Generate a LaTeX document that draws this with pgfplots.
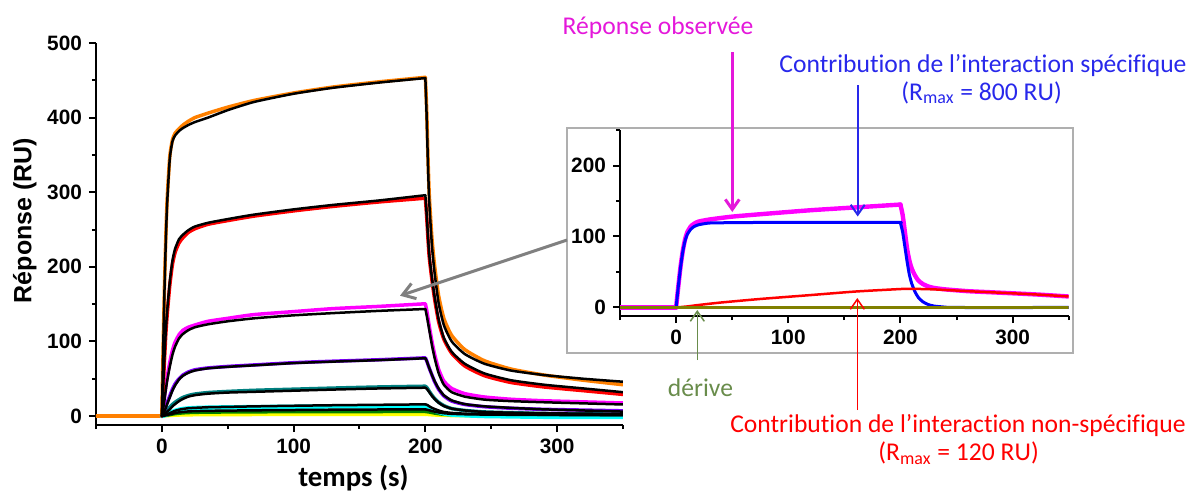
\documentclass[border=0pt]{standalone}
\usepackage{pgfplots}
\pgfplotsset{compat=1.18}
\usepackage{fontspec}
\setmainfont{Carlito}[Ligatures={TeX,NoCommon}]
\newfontfamily\arialfont{Liberation Sans}
\usetikzlibrary{arrows.meta}
\definecolor{cOrange}{RGB}{255,128,0}
\definecolor{cRed}{RGB}{255,0,0}
\definecolor{cMag}{RGB}{255,0,255}
\definecolor{cPurp}{RGB}{128,0,255}
\definecolor{cTeal}{RGB}{0,128,128}
\definecolor{cCyan}{RGB}{0,255,255}
\definecolor{cGreen}{RGB}{0,128,0}
\definecolor{cYel}{RGB}{255,255,0}
\definecolor{cBlue}{RGB}{0,0,255}
\definecolor{cOlive}{RGB}{128,128,0}
\definecolor{tMag}{RGB}{228,24,218}
\definecolor{tBlue}{RGB}{40,40,235}
\definecolor{tRed}{RGB}{255,0,0}
\definecolor{tGreen}{RGB}{105,140,75}
\definecolor{frameGray}{RGB}{175,175,175}
\definecolor{arrGray}{RGB}{128,128,128}
\pgfplotsset{myaxis/.style={
  scale only axis, axis lines=left,
  axis line style={-, line width=1pt, black},
  tick align=outside, major tick length=3.5pt, minor tick length=2pt,
  tick style={black, line width=1pt},
  tick label style={font=\arialfont\bfseries\fontsize{10.4}{12}\selectfont},
  /pgf/number format/assume math mode=true,
  every axis plot/.append style={line join=round, line cap=round},
},
dat/.style={line width=1.75pt, smooth, tension=0.35},
fit/.style={black, line width=1.25pt, smooth, tension=0.35}}
\begin{document}
\begin{tikzpicture}
\path[use as bounding box] (0,0) rectangle (596.5pt,247.5pt);

% ---------------- main axis ----------------
\begin{axis}[myaxis, at={(48pt,35pt)}, anchor=south west,
  width=263.5pt, height=191pt,
  xmin=-50, xmax=350, ymin=-12, ymax=500,
  xtick={0,100,200,300}, minor xtick={-50,50,150,250,350},
  ytick={0,100,200,300,400,500}, minor ytick={50,150,250,350,450}]
% baselines (data)
\addplot[cOrange, line width=1.75pt] coordinates {(-50,0)(0,0)};
% yellow data
\addplot[cYel, dat, line width=1.6pt] coordinates {(0,0)(5,0.5)(10,1)(20,1.5)(50,1.8)(100,2)(200,2.2)};
\addplot[cYel, dat, line width=1.6pt] coordinates {(200,2.2)(205,1.5)(210,1)(220,0.5)(245,0.2)(290,0)(350,0)};
% green data
\addplot[cGreen, dat, line width=1.6pt] coordinates {(0,0)(2,0.5)(4,1)(6,1.7)(8,2.4)(10,3)(13,3.6)(16,4.1)(20,4.5)(25,4.8)(35,5.1)(50,5.3)(70,5.5)(100,5.7)(130,5.8)(165,5.9)(200,6)};
\addplot[cGreen, dat, line width=1.6pt] coordinates {(200,6)(203,5.2)(205,4.5)(207,3.8)(210,3)(214,2.2)(220,1.5)(230,1)(245,0.5)(265,0.3)(290,0.2)(320,0)(350,0)};
% cyan data
\addplot[cCyan, dat, line width=2.2pt] coordinates {(0,0)(2,1)(4,2.5)(6,4)(8,5.5)(10,7)(13,8.5)(16,9.5)(20,10.3)(25,10.8)(35,11.3)(50,11.7)(70,12)(100,12.5)(130,12.8)(165,13)(200,13.2)};
\addplot[cCyan, dat, line width=2.2pt] coordinates {(200,13.2)(203,11)(205,9)(207,7.5)(210,5.5)(214,3.5)(220,2)(230,1)(245,0)(265,-0.5)(290,-1)(320,-1)(350,-1)};
% teal data
\addplot[cTeal, dat] coordinates {(0,0)(1,2)(2,4)(3,6)(4,8)(6,12)(8,15.5)(10,18.5)(13,22)(16,25)(20,27.5)(25,29.5)(35,31.5)(50,33)(70,34.5)(100,36)(130,37.5)(165,39)(200,40)};
\addplot[cTeal, dat] coordinates {(200,40)(201,38.5)(202,36)(203,33)(205,28)(207,23.5)(210,18.5)(214,14)(220,10)(230,7.5)(245,5.5)(265,4.5)(290,3.5)(320,3)(350,2.5)};
% purple data
\addplot[cPurp, dat] coordinates {(0,0)(1,4)(2,8)(3,13)(4,18)(6,27)(8,36)(10,43)(13,50)(16,55)(20,59)(25,62)(35,64.5)(50,66.5)(70,68.5)(100,71.5)(130,73.5)(165,75.5)(200,78)};
\addplot[cPurp, dat] coordinates {(200,78)(201,74)(202,69)(203,64)(205,55)(207,46)(210,36)(214,27)(220,20)(230,15.5)(245,12.5)(265,10.5)(290,9)(320,8)(350,7)};
% magenta data
\addplot[cMag, dat] coordinates {(0,0)(1,12)(2,26)(3,40)(4,52)(6,72)(8,88)(10,99)(13,109)(16,115)(20,119)(25,122)(35,127)(50,131)(70,136)(100,140)(130,144)(165,147)(200,150.5)};
\addplot[cMag, dat] coordinates {(200,150.5)(201,142)(202,131)(203,120)(205,100)(207,83)(210,63)(214,47)(220,37)(230,30)(245,25.5)(265,22.5)(290,20.5)(320,19)(350,17.5)};
% red data
\addplot[cRed, dat] coordinates {(0,0)(1,38)(2,76)(3,110)(4,135)(6,175)(8,203)(10,219)(13,232)(16,239)(20,246)(25,251)(35,257)(50,262)(70,268)(100,275)(130,281)(165,287)(200,292)};
\addplot[cRed, dat] coordinates {(200,292)(201,267)(202,237)(203,212)(205,182)(207,157)(210,127)(214,103)(220,84)(230,67)(245,54)(265,45)(290,39)(320,34)(350,29)};
% orange data
\addplot[cOrange, dat] coordinates {(0,0)(1,95)(2,175)(3,240)(4,290)(6,348)(8,370)(10,379)(13,385)(16,390)(20,395)(25,400)(35,406)(50,414)(70,423)(100,433)(130,441)(165,448)(200,454)};
\addplot[cOrange, dat] coordinates {(200,454)(201,410)(202,345)(203,295)(205,238)(207,202)(210,162)(214,131)(220,108)(230,89)(245,74)(265,63)(290,55)(320,48)(350,42)};
% black fits
\addplot[fit] coordinates {(0,0)(2,0.5)(4,1.3)(6,2.2)(8,3)(10,4)(13,5)(16,5.6)(20,6.2)(25,6.6)(35,7)(50,7.3)(70,7.7)(100,8.1)(130,8.5)(165,8.8)(200,9)};
\addplot[fit] coordinates {(200,9)(203,7.8)(205,6.8)(207,5.9)(210,4.8)(214,3.8)(220,3)(230,2.4)(245,2)(265,1.7)(290,1.5)(320,1.3)(350,1.2)};
\addplot[fit] coordinates {(0,0)(1,0.5)(2,1)(3,1.7)(4,2.5)(6,4)(8,5.5)(10,7)(13,8.5)(16,9.5)(20,10.5)(25,11)(35,11.8)(50,12.3)(70,13)(100,13.8)(130,14.5)(165,15.1)(200,15.7)};
\addplot[fit] coordinates {(200,15.7)(201,15.2)(202,14.3)(203,13)(205,11)(207,9.5)(210,7.5)(214,5.5)(220,4.2)(230,3.2)(245,2.5)(265,2)(290,1.7)(320,1.5)(350,1.3)};
\addplot[fit] coordinates {(0,0)(1,1.5)(2,3)(3,4.5)(4,6)(6,9)(8,13)(10,16)(13,20)(16,23)(20,26)(25,28)(35,30)(50,31.5)(70,32.5)(100,34)(130,35.5)(165,37)(200,38)};
\addplot[fit] coordinates {(200,38)(201,36.5)(202,34.5)(203,32)(205,27)(207,23)(210,18)(214,13.5)(220,10)(230,7.5)(245,5.5)(265,4.5)(290,3.8)(320,3.2)(350,2.8)};
\addplot[fit] coordinates {(0,0)(1,3)(2,7)(3,11)(4,16)(6,25)(8,34)(10,41)(13,49)(16,54)(20,58)(25,61)(35,64)(50,66)(70,68)(100,71)(130,73)(165,75)(200,77.5)};
\addplot[fit] coordinates {(200,77.5)(201,74)(202,69)(203,64)(205,55)(207,47)(210,37)(214,28)(220,21)(230,16)(245,13)(265,11)(290,9)(320,7.5)(350,6)};
\addplot[fit] coordinates {(0,0)(1,10)(2,22)(3,35)(4,47)(6,66)(8,82)(10,93)(13,104)(16,110)(20,115)(25,119)(35,123)(50,127)(70,131)(100,135)(130,138)(165,141)(200,143.5)};
\addplot[fit] coordinates {(200,143.5)(201,135)(202,125)(203,115)(205,95)(207,78)(210,58)(214,42)(220,32)(230,26)(245,22)(265,20)(290,18.5)(320,17)(350,15.5)};
\addplot[fit] coordinates {(0,0)(1,40)(2,80)(3,115)(4,140)(6,180)(8,208)(10,224)(13,237)(16,243)(20,249)(25,254)(35,259)(50,264)(70,270)(100,277)(130,283)(165,289)(200,296)};
\addplot[fit] coordinates {(200,296)(201,270)(202,240)(203,215)(205,185)(207,160)(210,130)(214,105)(220,86)(230,70)(245,57)(265,48)(290,42)(320,37)(350,32)};
\addplot[fit] coordinates {(0,0)(1,90)(2,170)(3,235)(4,285)(6,345)(8,368)(10,376)(13,382)(16,386)(20,390)(25,394)(35,400)(50,410)(70,421)(100,432)(130,440)(165,447)(200,453)};
\addplot[fit] coordinates {(200,453)(201,400)(202,335)(203,285)(205,228)(207,192)(210,152)(214,122)(220,100)(230,83)(245,70)(265,61)(290,55)(320,50)(350,46)};
\end{axis}

% axis labels of main chart
\node[rotate=90, anchor=base, inner sep=0pt, font=\arialfont\bfseries\fontsize{12.5}{15}\selectfont] at (15.75pt,137.25pt) {Réponse (RU)};
\node[anchor=base, inner sep=0pt, font=\bfseries\fontsize{14.4}{17}\selectfont] at (176.75pt,4.2pt) {temps (s)};

% ---------------- inset ----------------
\draw[frameGray, line width=0.75pt, fill=white] (283.5pt,71pt) rectangle (536.5pt,183.5pt);
\begin{axis}[myaxis, at={(310pt,89.5pt)}, anchor=south west,
  width=224.35pt, height=93pt,
  xmin=-50, xmax=350, ymin=-12, ymax=250,
  xtick={0,100,200,300}, minor xtick={-50,50,150,250,350},
  ytick={0,100,200}, minor ytick={50,150,250}]
\addplot[cMag, line width=2.2pt] coordinates {(-50,0)(0,0)};
\addplot[cMag, line width=2.2pt, smooth, tension=0.35] coordinates {(0,0)(2,30)(4,58)(6,80)(8,96)(10,106)(13,114)(16,118)(20,121)(30,124)(50,128)(80,132)(120,137)(160,141)(200,145)};
\addplot[cMag, line width=2.2pt, smooth, tension=0.35] coordinates {(200,145)(202,130)(204,106)(206,82)(208,66)(210,55)(213,45)(216,38)(220,33)(225,29.5)(230,27.5)(240,25.5)(260,23)(280,21.5)(300,20)(325,18)(350,15.5)};
\addplot[cBlue, line width=1.5pt, smooth, tension=0.35] coordinates {(0,0)(2,30)(4,57)(6,79)(8,94)(10,103)(13,110)(16,114)(20,116.5)(25,118)(30,119)(50,119.5)(100,120)(150,120)(198,120)(200,119)};
\addplot[cBlue, line width=1.5pt, smooth, tension=0.35] coordinates {(200,119)(202,106)(204,85)(206,64)(208,46)(210,34)(213,22)(216,14)(220,8)(225,4)(230,2)(240,0.5)(250,0)(350,0)};
\addplot[cRed, line width=1.25pt, smooth, tension=0.35] coordinates {(0,0)(10,1.5)(20,3.5)(40,7)(75,12)(120,17.5)(160,22.5)(200,26)(210,26.3)(230,25.5)(260,23)(300,20)(325,18)(350,15.5)};
\addplot[cOlive, line width=1.6pt] coordinates {(-50,0)(350,0)};
\end{axis}

% ---------------- annotations ----------------
\node[anchor=base, inner sep=0pt, text=tMag, font=\fontsize{12.8}{15}\selectfont] at (329pt,230.35pt) {Réponse observée};
\node[anchor=base, inner sep=0pt, text=tBlue, font=\fontsize{12.8}{15}\selectfont] at (491.5pt,211.15pt) {Contribution de l’interaction spécifique};
\node[anchor=base, inner sep=0pt, text=tBlue, font=\fontsize{12.8}{15}\selectfont] at (490.8pt,197.5pt) {(R\textsubscript{max} = 800 RU)};
\node[anchor=base, inner sep=0pt, text=tRed, font=\fontsize{12.8}{15}\selectfont] at (479pt,31.15pt) {Contribution de l’interaction non-spécifique};
\node[anchor=base, inner sep=0pt, text=tRed, font=\fontsize{12.8}{15}\selectfont] at (479.3pt,17.15pt) {(R\textsubscript{max} = 120 RU)};
\node[anchor=base, inner sep=0pt, text=tGreen, font=\fontsize{12.8}{15}\selectfont] at (350.25pt,49.5pt) {dérive};

\draw[tMag, line width=1.5pt, -{Straight Barb[length=5pt,width=7pt]}] (366.15pt,221.35pt) -- (366.15pt,141.5pt);
\draw[tBlue, line width=1pt, -{Straight Barb[length=5pt,width=7pt]}] (428.85pt,205pt) -- (428.85pt,139.25pt);
\draw[tRed, line width=0.75pt, -{Straight Barb[length=5pt,width=7pt]}] (428.65pt,42.5pt) -- (428.65pt,98.5pt);
\draw[tGreen, line width=0.75pt, -{Straight Barb[length=5pt,width=7pt]}] (348.65pt,67.5pt) -- (348.65pt,92.5pt);
\draw[arrGray, line width=1.5pt, -{Straight Barb[length=6pt,width=8pt]}] (283.5pt,127.5pt) -- (200pt,99.65pt);
\end{tikzpicture}
\end{document}
